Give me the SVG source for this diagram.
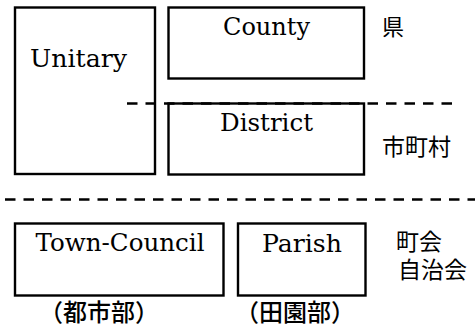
<svg xmlns="http://www.w3.org/2000/svg" width="475" height="329" viewBox="0 0 475 329">
<style>
.box{fill:#fff;stroke:#000;stroke-width:2.4}
.lbl{font-family:"DejaVu Serif","Liberation Serif",serif;font-size:24px;fill:#000}
.jp{font-family:"Noto Sans CJK JP",sans-serif;font-size:23px;fill:#000}
.jpb{font-family:"Noto Sans CJK JP",sans-serif;font-size:24px;font-weight:500;fill:#000}
.dash{stroke:#000;stroke-width:2.4;stroke-dasharray:10.5 8;fill:none}
</style>
<rect width="475" height="329" fill="#fff"/>
<g id="unitary"><rect class="box" x="15" y="7.5" width="140" height="166.5"/><text class="lbl" x="30" y="67" textLength="97" lengthAdjust="spacingAndGlyphs">Unitary</text></g>
<g id="county"><rect class="box" x="168.5" y="7.5" width="195.5" height="71"/><text class="lbl" x="223" y="34.5" textLength="87" lengthAdjust="spacingAndGlyphs">County</text></g>
<g id="district"><rect class="box" x="168.5" y="103.5" width="195.5" height="71"/><text class="lbl" x="220" y="130.5" textLength="93" lengthAdjust="spacingAndGlyphs">District</text></g>
<g id="town-council"><rect class="box" x="15" y="223.5" width="208.5" height="72"/><text class="lbl" x="35.5" y="251" textLength="169" lengthAdjust="spacingAndGlyphs">Town-Council</text></g>
<g id="parish"><rect class="box" x="238" y="223.5" width="127.5" height="72"/><text class="lbl" x="262" y="251.5" textLength="80" lengthAdjust="spacingAndGlyphs">Parish</text></g>
<g id="connectors">
<line class="dash" x1="127" y1="103.5" x2="455" y2="103.5"/>
<line class="dash" x1="5" y1="199.5" x2="475" y2="199.5"/>
</g>
<g id="labels">
<text class="jp" x="382" y="35" style="font-size:22px">県</text>
<text class="jp" x="382" y="155">市町村</text>
<text class="jp" x="396" y="250">町会</text>
<text class="jp" x="398" y="277.5">自治会</text>
<text class="jpb" x="39" y="321">（都市部）</text>
<text class="jpb" x="235" y="321">（田園部）</text>
</g>
</svg>
